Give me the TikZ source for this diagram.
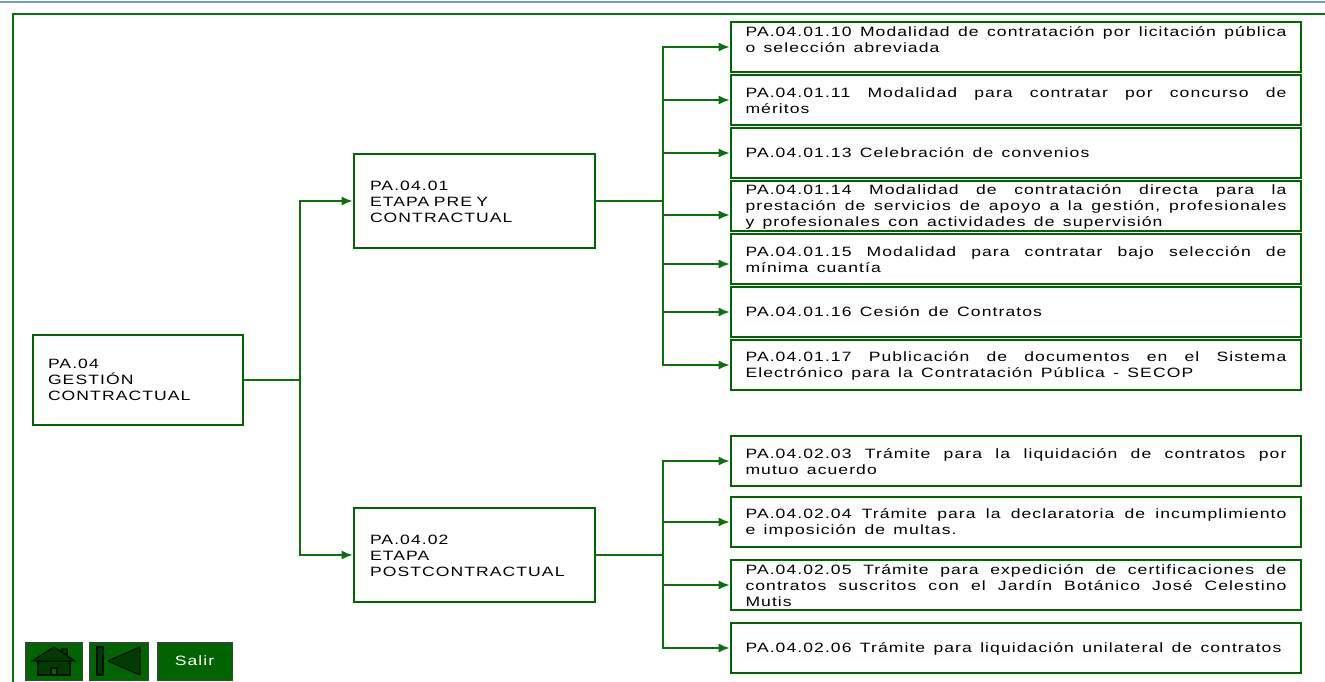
\documentclass[tikz,border=0pt]{standalone}
\usepackage{fontspec}
\setmainfont[FakeStretch=1.3,LetterSpace=8,WordSpace=1.4]{Liberation Sans}
\usetikzlibrary{arrows.meta}
\definecolor{frameGreen}{HTML}{0B720B}
\definecolor{boxGreen}{HTML}{006400}
\definecolor{iconGreen}{HTML}{003C00}
\definecolor{topBlue}{HTML}{6F9CCB}
\newcommand{\gapBelow}{\par\mbox{}}
\newcommand{\dropText}{\par\vspace{-2pt}}
\hyphenpenalty=10000

\begin{document}
\begin{tikzpicture}
[x=1pt,y=-1pt,%
  lineDecorate/.style={draw=frameGreen,line width=1.6pt},%
  arrowDecorate/.style={lineDecorate,-{Latex[length=11pt,width=9pt]}},%
  boxDecorate/.style={draw=boxGreen,line width=2.8pt,fill=white,inner sep=0pt,align=left},%
  dropDecorate/.style={execute at end node={\dropText}},%
  leafDecorate/.style={boxDecorate,dropDecorate,minimum width=570pt,minimum height=50pt,text width=541pt,align=justify},%
  buttonDecorate/.style={draw=black!75,line width=1pt,fill=boxGreen,inner sep=0pt,minimum height=38pt},%
  iconDecorate/.style={draw=black!85!boxGreen,line width=1.2pt,fill=iconGreen}]
\fontsize{13.5}{16}\selectfont
\useasboundingbox (0,0) rectangle (1325,682);
%% frame
\draw[draw=topBlue,line width=1.2pt] (0,2) -- (1325,2);
\draw[draw=frameGreen,line width=2.6pt] (13,682) -- (13,14) -- (1325,14);
%% nodes or vertices
\node (root) at (138,380) [boxDecorate,minimum width=210pt,minimum height=90pt,text width=180pt]
  {PA.04\\GESTIÓN\\CONTRACTUAL};
\node (etapaPre) at (474.5,201) [boxDecorate,dropDecorate,minimum width=241pt,minimum height=94pt,text width=209pt]
  {PA.04.01\\ETAPA PRE Y\\CONTRACTUAL};
\node (etapaPost) at (474.5,555) [boxDecorate,dropDecorate,minimum width=241pt,minimum height=94pt,text width=209pt]
  {PA.04.02\\ETAPA\\POSTCONTRACTUAL};
\foreach \nodename/\y/\txt in {
  a10/47/{PA.04.01.10 Modalidad de contratación por licitación pública\linebreak o selección abreviada\gapBelow},
  a11/100/{PA.04.01.11 Modalidad para contratar por concurso de\linebreak méritos},
  a13/153/{PA.04.01.13 Celebración de convenios},
  a14/206/{PA.04.01.14 Modalidad de contratación directa para la\linebreak prestación de servicios de apoyo a la gestión, profesionales\linebreak y profesionales con actividades de supervisión},
  a15/259/{PA.04.01.15 Modalidad para contratar bajo selección de\linebreak mínima cuantía},
  a16/312/{PA.04.01.16 Cesión de Contratos},
  a17/365/{PA.04.01.17 Publicación de documentos en el Sistema\linebreak Electrónico para la Contratación Pública - SECOP},
  b03/461/{PA.04.02.03 Trámite para la liquidación de contratos por\linebreak mutuo acuerdo},
  b04/522/{PA.04.02.04 Trámite para la declaratoria de incumplimiento\linebreak e imposición de multas.},
  b05/585/{PA.04.02.05 Trámite para expedición de certificaciones de\linebreak contratos suscritos con el Jardín Botánico José Celestino\linebreak Mutis},
  b06/648/{PA.04.02.06 Trámite para liquidación unilateral de contratos}}
{
  \node (\nodename) at (1016,\y) [leafDecorate] {\txt};
}
\coordinate (hubRoot) at (300,380);
\coordinate (hubPre) at (663,201);
\coordinate (hubPost) at (663,555);
%% edges or lines
\draw[lineDecorate] (root.east) -- (hubRoot);
\draw[arrowDecorate] (hubRoot) |- (etapaPre.west);
\draw[arrowDecorate] (hubRoot) |- (etapaPost.west);
\draw[lineDecorate] (etapaPre.east) -- (hubPre);
\draw[lineDecorate] (etapaPost.east) -- (hubPost);
\foreach \endnode/\dy in {a10/0, a11/0, a13/0, a14/9, a15/5, a16/0, a17/0}
{
  \draw[arrowDecorate] (hubPre) |- ([yshift=-\dy pt]\endnode.west);
}
\foreach \endnode in {b03, b04, b05, b06}
{
  \draw[arrowDecorate] (hubPost) |- (\endnode.west);
}
%% buttons
\node (home) at (53.5,661) [buttonDecorate,minimum width=57pt] {};
\node (back) at (118.5,661) [buttonDecorate,minimum width=59pt] {};
\node (salir) at (194.5,661) [buttonDecorate,minimum width=75pt,text=white] {Salir\hspace{5pt}};
\draw[iconDecorate] (38,661) rectangle (70,675);
\draw[iconDecorate,fill=boxGreen] (51,668) rectangle (57,675);
\draw[iconDecorate] (62,649) rectangle (67,656);
\draw[iconDecorate] (54,647) -- (75,661) -- (32,661) -- cycle;
\draw[iconDecorate] (97,647) rectangle (103,675);
\draw[iconDecorate] (108,661) -- (140,647) -- (140,675) -- cycle;
\end{tikzpicture}
\end{document}
